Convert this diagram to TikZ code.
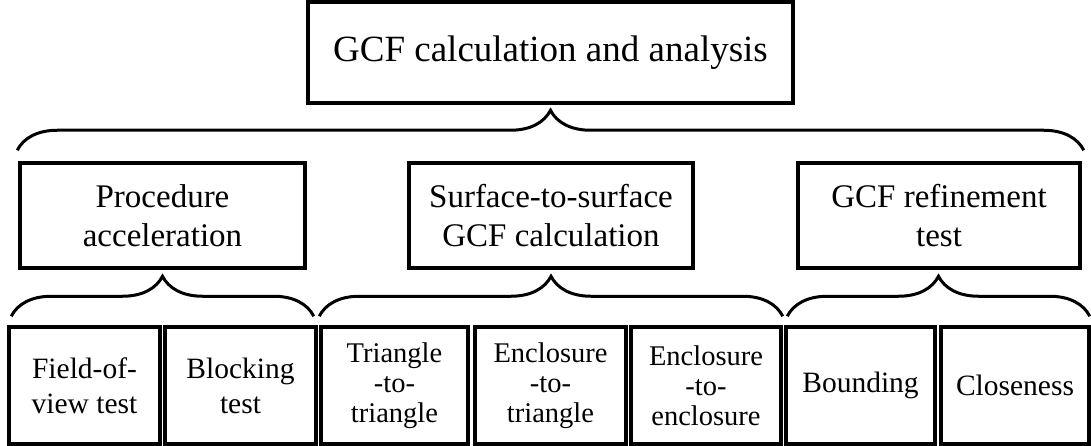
\documentclass[tikz,border=0pt]{standalone}
\usepackage{fontspec}
\setmainfont{Liberation Serif}
\usepackage{tikz}
\usetikzlibrary{decorations.pathreplacing}
\usetikzlibrary{calc}

\begin{document}
\begin{tikzpicture}[x=1pt, y=1pt,
    box/.style={draw, line width=3.5pt, inner sep=0pt, align=center},
    brc/.style={decorate, decoration={brace, amplitude=40pt}, line width=3pt}]
    \useasboundingbox (0,0) rectangle (1091,-446);

    \node[box, minimum width=485, minimum height=101, font=\fontsize{37}{44}\selectfont] (gcf) at (550.5, -52.5) {GCF calculation and analysis};

    \node[box, minimum width=285, minimum height=105, font=\fontsize{33}{39}\selectfont] (proc) at (162.5, -215.5) {Procedure\\acceleration};
    \node[box, minimum width=284, minimum height=105, font=\fontsize{33}{39}\selectfont] (surf) at (551, -215.5) {Surface-to-surface\\GCF calculation};
    \node[box, minimum width=282, minimum height=105, font=\fontsize{33}{39}\selectfont] (refine) at (939, -215.5) {GCF refinement\\test};

    \node[box, minimum width=151, minimum height=117, font=\fontsize{29.5}{35}\selectfont] (fov) at (84.5, -385.5) {Field-of-\\view test};
    \node[box, minimum width=151, minimum height=117, font=\fontsize{29.5}{35}\selectfont] (block) at (240.5, -385.5) {Blocking\\test};
    \node[box, minimum width=147, minimum height=117, font=\fontsize{28.5}{30}\selectfont] (tritri) at (394.5, -385.5) {Triangle\\-to-\\triangle};
    \node[box, minimum width=151, minimum height=117, font=\fontsize{28.5}{30}\selectfont] (enctri) at (550.5, -385.5) {Enclosure\\-to-\\triangle};
    \node[box, minimum width=150, minimum height=117, font=\fontsize{28.5}{30}\selectfont] (encenc) at (706, -385.5) {Enclosure\\-to-\\enclosure};
    \node[box, minimum width=149, minimum height=117, font=\fontsize{29.5}{35}\selectfont] (bound) at (860.5, -385.5) {Bounding};
    \node[box, minimum width=148, minimum height=117, font=\fontsize{29.5}{35}\selectfont] (close) at (1015, -385.5) {Closeness};

    \draw[brc] ($(proc.north west)+(-1,11)$) -- ($(refine.north east)+(2,11)$);

    \draw[brc] ($(fov.north west)+(4,9)$) -- ($(block.north east)+(-4,9)$);
    \draw[brc] ($(tritri.north west)+(0,9)$) -- ($(encenc.north east)+(0,9)$);
    \draw[brc] ($(bound.north west)+(3,9)$) -- ($(close.north east)+(-1,9)$);

  \end{tikzpicture}
\end{document}
